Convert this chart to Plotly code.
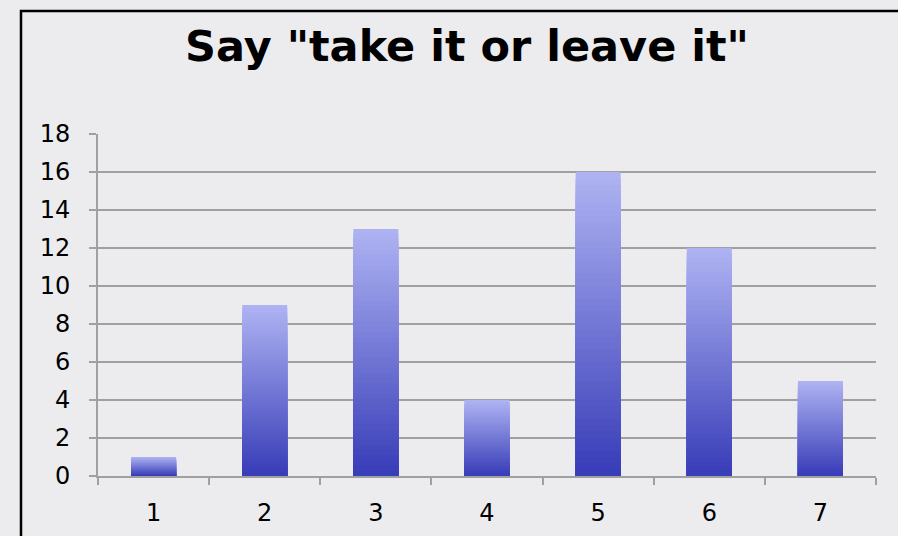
import plotly.graph_objects as go

# Responses per answer option
categories = ["1", "2", "3", "4", "5", "6", "7"]
counts = [1, 9, 13, 4, 16, 12, 5]
y_ticks = [0, 2, 4, 6, 8, 10, 12, 14, 16, 18]

title_text = 'Say "take it or leave it"'

# vertical gradient for the bars: light at the top, deep blue at the base
top_rgb = (174, 178, 242)
base_rgb = (56, 61, 184)
steps = 48

W, H = 898, 536
L, R, T, B = 98, 22, 134, 60
plot_w = W - L - R
plot_h = H - T - B

fig = go.Figure()

# overlaid bars of shrinking height give each column a smooth fade
for k in range(steps):
    frac = 1 - k / steps
    t = k / (steps - 1)
    rgb = tuple(round(a + (b - a) * t) for a, b in zip(top_rgb, base_rgb))
    fig.add_trace(go.Bar(
        x=categories,
        y=[v * frac for v in counts],
        marker=dict(color="rgb(%d,%d,%d)" % rgb, line=dict(width=0)),
        hoverinfo="skip",
        showlegend=False,
    ))

grid = "#a0a0a0"


def px_to_paper_x(px):
    return (px - L) / plot_w


def px_to_paper_y(py):
    return (H - B - py) / plot_h


# black frame around the chart panel, running off the right and bottom edges
fig.add_shape(type="rect", xref="paper", yref="paper",
              x0=px_to_paper_x(21), x1=px_to_paper_x(W + 10),
              y0=px_to_paper_y(H + 10), y1=px_to_paper_y(11),
              line=dict(color="#000000", width=2.5), layer="above")

fig.update_layout(
    width=W, height=H,
    margin=dict(l=L, r=R, t=T, b=B),
    paper_bgcolor="#ececef",
    plot_bgcolor="#ececef",
    barmode="overlay",
    bargap=0.595,
    font=dict(family="DejaVu Sans", color="#000000"),
    title=dict(text="<b>%s</b>" % title_text, x=467 / W, xanchor="center",
               y=1 - 46 / H, yanchor="middle",
               font=dict(size=43, family="DejaVu Sans", color="#000000")),
    xaxis=dict(
        type="category",
        tickson="boundaries",
        ticks="outside", ticklen=7, tickwidth=2, tickcolor=grid,
        showline=True, linecolor=grid, linewidth=2,
        showgrid=False,
        tickfont=dict(size=24, family="DejaVu Sans"),
        ticklabelstandoff=14,
        automargin=False,
        fixedrange=True,
    ),
    yaxis=dict(
        range=[0, 18],
        tickvals=y_ticks,
        ticks="outside", ticklen=7, tickwidth=2, tickcolor=grid,
        showline=True, linecolor=grid, linewidth=2,
        showgrid=True, gridcolor=grid, gridwidth=2,
        zeroline=False,
        tickfont=dict(size=24, family="DejaVu Sans"),
        ticklabelstandoff=14,
        automargin=False,
        fixedrange=True,
    ),
)

fig.write_html("out.html")
